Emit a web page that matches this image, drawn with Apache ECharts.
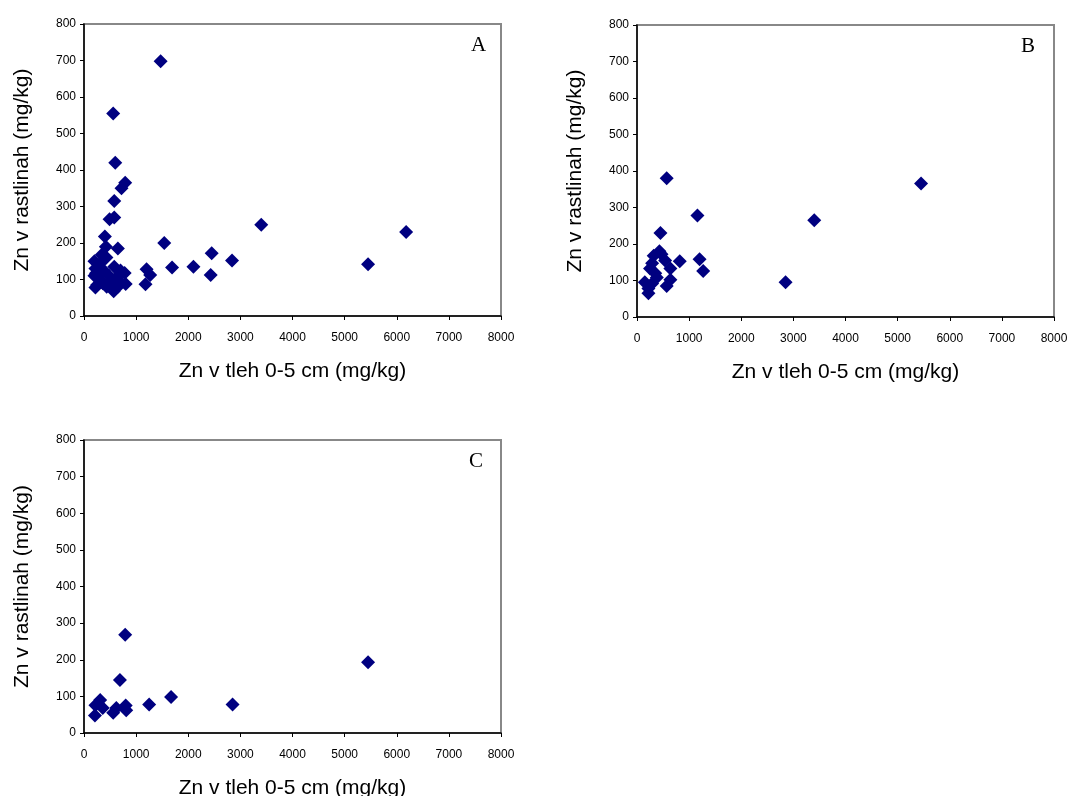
<!DOCTYPE html>
<html>
<head>
<meta charset="utf-8">
<script src="https://cdn.jsdelivr.net/npm/echarts@6/dist/echarts.min.js"></script>
<style>
html,body{margin:0;padding:0;background:#fff;}
#chart{width:1070px;height:796px;}
</style>
</head>
<body>
<div id="chart"></div>
<script>
// Panel labels and axis titles
const panelLabels = ['A', 'B', 'C'];
const xAxisTitle = 'Zn v tleh 0-5 cm (mg/kg)';
const yAxisTitle = 'Zn v rastlinah (mg/kg)';
const xTicks = [0, 1000, 2000, 3000, 4000, 5000, 6000, 7000, 8000];
const yTicks = [0, 100, 200, 300, 400, 500, 600, 700, 800];

// Panel A: [Zn in soil 0-5 cm, Zn in plants]
const dataA = [
  [1470, 698], [560, 555], [600, 420], [790, 365], [720, 350], [580, 315],
  [580, 270], [490, 265], [400, 218], [650, 185], [420, 190], [1540, 200],
  [2450, 172], [2840, 152], [1690, 133], [2100, 135], [2430, 112], [1200, 128],
  [1270, 112], [1180, 87], [3400, 250], [5450, 142], [6180, 230],
  [200, 150], [220, 130], [200, 110], [220, 78], [570, 68], [800, 88],
  [580, 135], [700, 125], [780, 118], [300, 100], [380, 125], [430, 160],
  [340, 168], [250, 85], [435, 80], [690, 94], [310, 144], [230, 117],
  [480, 110], [620, 105], [360, 90], [520, 95], [650, 80], [280, 120]
];

// Panel B
const dataB = [
  [570, 380], [1160, 278], [450, 230], [3400, 265], [5450, 366], [2850, 95],
  [1200, 158], [1270, 126], [820, 153], [430, 180], [320, 168], [540, 155],
  [640, 133], [290, 147], [150, 95], [220, 65], [570, 85], [640, 102],
  [350, 120], [290, 92], [220, 78], [380, 108], [250, 133], [470, 172]
];

// Panel C
const dataC = [
  [210, 48], [220, 76], [310, 90], [360, 68], [560, 55], [620, 68],
  [690, 145], [790, 268], [800, 75], [810, 62], [1250, 78], [1670, 98],
  [2850, 78], [5450, 193]
];

const panels = [dataA, dataB, dataC];
const grids = [
  {left: 84, top: 24, width: 417, height: 292},
  {left: 637, top: 25, width: 417, height: 292},
  {left: 84, top: 440, width: 417, height: 293}
];
const letterPos = [
  {left: 471, top: 35},
  {left: 1021, top: 36},
  {left: 469, top: 451}
];

const chart = echarts.init(document.getElementById('chart'), null, {renderer: 'canvas'});
const font = '"Liberation Sans", Arial, sans-serif';

const option = {
  animation: false,
  backgroundColor: '#fff',
  title: panelLabels.map((t, i) => ({
    text: t,
    left: letterPos[i].left,
    top: letterPos[i].top,
    padding: 0,
    textStyle: {fontFamily: '"Liberation Serif", "Times New Roman", serif', fontSize: 21, fontWeight: 'normal', color: '#000'}
  })),
  grid: grids.map(g => Object.assign({show: true, borderColor: '#888', borderWidth: 2, backgroundColor: 'transparent', outerBoundsMode: 'none', containLabel: false}, g)),
  xAxis: panels.map((d, i) => ({
    type: 'value', gridIndex: i, min: xTicks[0], max: xTicks[xTicks.length - 1], interval: xTicks[1] - xTicks[0],
    name: xAxisTitle, nameLocation: 'middle', nameGap: 45,
    nameTextStyle: {fontFamily: font, fontSize: 21, color: '#000'},
    axisLine: {show: true, onZero: false, lineStyle: {color: '#000', width: 1.5}},
    axisTick: {show: true, length: 4, lineStyle: {color: '#000'}},
    axisLabel: {fontFamily: font, fontSize: 12, color: '#000', margin: 16, formatter: v => String(v)},
    splitLine: {show: false}
  })),
  yAxis: panels.map((d, i) => ({
    type: 'value', gridIndex: i, min: yTicks[0], max: yTicks[yTicks.length - 1], interval: yTicks[1] - yTicks[0],
    name: yAxisTitle, nameLocation: 'middle', nameGap: 51, nameRotate: 90,
    nameTextStyle: {fontFamily: font, fontSize: 21, color: '#000'},
    axisLine: {show: true, onZero: false, lineStyle: {color: '#000', width: 1.5}},
    axisTick: {show: true, length: 4, lineStyle: {color: '#000'}},
    axisLabel: {fontFamily: font, fontSize: 12, color: '#000', margin: 8, formatter: v => String(v)},
    splitLine: {show: false}
  })),
  series: panels.map((d, i) => ({
    type: 'scatter', xAxisIndex: i, yAxisIndex: i, data: d,
    symbol: 'path://M0,-1 L1,0 L0,1 L-1,0 Z', symbolSize: 14,
    itemStyle: {color: '#000080', opacity: 1}
  }))
};
chart.setOption(option);
</script>
</body>
</html>
